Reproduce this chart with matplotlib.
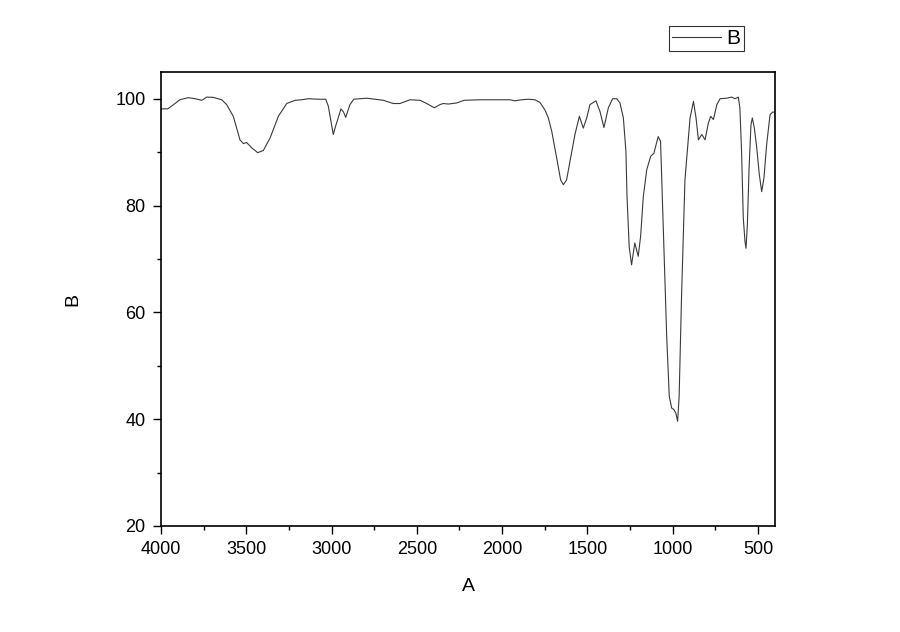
import matplotlib
matplotlib.use("Agg")
import matplotlib.pyplot as plt
from matplotlib.ticker import MultipleLocator

plt.rcParams['font.family'] = ['Liberation Sans', 'DejaVu Sans']

wavenumber = [4000, 3960, 3930, 3890, 3840, 3800, 3761, 3732, 3693, 3644, 3615, 3576,
              3537, 3517, 3498, 3468, 3433, 3400, 3361, 3312, 3263, 3214, 3175, 3136,
              3078, 3034, 3019, 3005, 2990, 2975, 2964, 2945, 2930, 2917, 2892, 2870,
              2794, 2696, 2638, 2599, 2540, 2481, 2442, 2398, 2364, 2345, 2316, 2267,
              2223, 2130, 2012, 1954, 1925, 1885, 1846, 1807, 1778, 1749, 1729, 1709,
              1680, 1657, 1641, 1622, 1602, 1573, 1547, 1524, 1504, 1485, 1450, 1426,
              1403, 1377, 1352, 1328, 1309, 1289, 1274, 1268, 1255, 1241, 1222, 1202,
              1188, 1172, 1152, 1129, 1110, 1085, 1071, 1055, 1035, 1020, 1006, 993,
              981, 971, 962, 948, 928, 909, 898, 878, 863, 849, 829, 810, 791, 777,
              761, 741, 722, 683, 654, 635, 615, 606, 596, 586, 576, 570, 562, 552,
              541, 533, 521, 507, 492, 478, 465, 449, 429, 414, 400]
transmittance = [98.1, 98.1, 98.8, 99.8, 100.2, 100.0, 99.7, 100.3, 100.25, 99.8, 98.9, 96.7,
                 92.3, 91.6, 91.8, 90.8, 89.9, 90.3, 92.6, 96.7, 99.1, 99.7, 99.8, 100.0,
                 99.9, 99.9, 98.6, 96.0, 93.3, 95.0, 96.1, 98.1, 97.5, 96.5, 98.9, 99.9,
                 100.1, 99.7, 99.1, 99.1, 99.8, 99.7, 99.1, 98.3, 98.9, 99.1, 99.0, 99.2,
                 99.7, 99.8, 99.8, 99.8, 99.6, 99.8, 99.9, 99.8, 99.3, 97.9, 96.4, 93.9,
                 88.9, 84.8, 83.9, 84.8, 88.3, 93.3, 96.7, 94.5, 96.4, 98.9, 99.6, 97.6,
                 94.6, 98.3, 100.0, 100.0, 99.2, 96.4, 90.1, 82.0, 72.3, 68.9, 73.0, 70.5,
                 74.2, 81.7, 86.7, 89.2, 89.8, 92.9, 92.0, 75.5, 55.5, 44.3, 42.1, 41.8,
                 41.1, 39.6, 44.3, 63.0, 84.8, 92.3, 96.4, 99.5, 96.4, 92.3, 93.3, 92.3, 95.4, 96.7,
                 96.1, 98.9, 100.0, 100.1, 100.3, 100.0, 100.3, 98.3, 90.1, 77.7, 73.3, 72.0, 76.4, 87.0,
                 95.1, 96.4, 94.5, 90.8, 85.8, 82.6, 85.1, 91.4, 97.0, 97.5, 97.5]

x_label = "A"
y_label = "B"
series_name = "B"

fig = plt.figure(figsize=(9, 6.32), dpi=100)
ax = fig.add_axes([161/900, 1 - 526/632, 614/900, 454/632])
line, = ax.plot(wavenumber, transmittance, color='#3a3a3a', lw=0.8, label=series_name)

ax.set_xlim(4000, 400)
ax.set_ylim(20, 105)
ax.xaxis.set_major_locator(MultipleLocator(500))
ax.xaxis.set_minor_locator(MultipleLocator(250))
ax.yaxis.set_major_locator(MultipleLocator(20))
ax.yaxis.set_minor_locator(MultipleLocator(10))
ax.tick_params(which='both', direction='out', top=False, right=False,
               labelsize=13, width=1.0, color='black')
ax.tick_params(which='major', length=5.5, pad=5.5)
ax.tick_params(which='minor', length=3)
for s in ax.spines.values():
    s.set_linewidth(1.2)

ax.set_xlabel(x_label, fontsize=14, labelpad=14.5)
ax.set_ylabel(y_label, fontsize=14, labelpad=24.5)

leg = fig.legend(handles=[line], loc='upper left',
                 bbox_to_anchor=(669/900, 1 - 26/632), bbox_transform=fig.transFigure,
                 fontsize=15, frameon=True, fancybox=False, shadow=False,
                 borderpad=0.15, borderaxespad=0, handlelength=2.35, handletextpad=0.27)
leg.get_frame().set_edgecolor('black')
leg.get_frame().set_linewidth(0.8)

fig.savefig("out.png", dpi=100)
